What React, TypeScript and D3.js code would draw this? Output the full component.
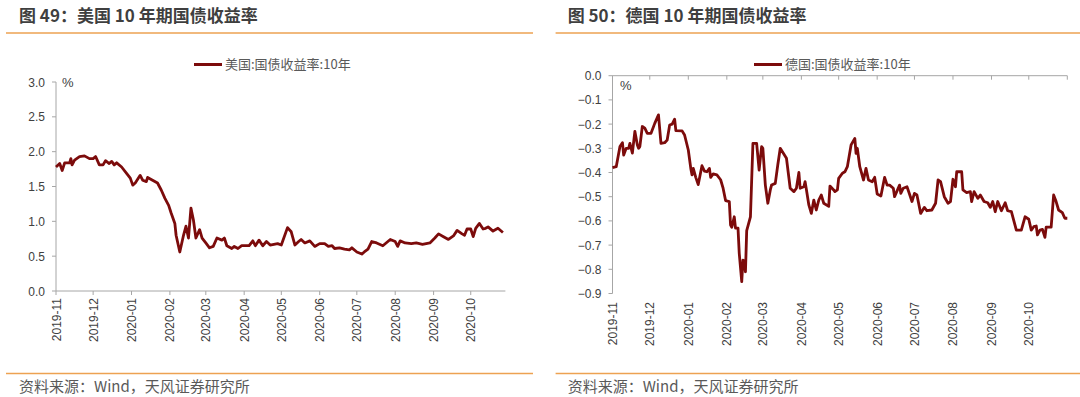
import React from 'react';
import * as d3 from 'd3';

// US 10Y yield
const usDates = [
  '2019-11-01', '2019-11-04', '2019-11-06', '2019-11-08', '2019-11-12', '2019-11-13', '2019-11-14', '2019-11-16',
  '2019-11-20', '2019-11-24', '2019-11-28', '2019-12-01', '2019-12-03', '2019-12-06', '2019-12-09', '2019-12-11',
  '2019-12-14', '2019-12-16', '2019-12-18', '2019-12-20', '2019-12-24', '2019-12-28', '2019-12-31', '2020-01-02',
  '2020-01-04', '2020-01-08', '2020-01-10', '2020-01-13', '2020-01-14', '2020-01-18', '2020-01-22', '2020-01-25',
  '2020-01-28', '2020-01-31', '2020-02-02', '2020-02-05', '2020-02-06', '2020-02-09', '2020-02-12', '2020-02-14',
  '2020-02-16', '2020-02-18', '2020-02-20', '2020-02-22', '2020-02-25', '2020-02-27', '2020-03-01', '2020-03-04',
  '2020-03-07', '2020-03-10', '2020-03-14', '2020-03-16', '2020-03-18', '2020-03-22', '2020-03-24', '2020-03-27',
  '2020-03-30', '2020-04-05', '2020-04-08', '2020-04-10', '2020-04-13', '2020-04-16', '2020-04-19', '2020-04-22',
  '2020-04-28', '2020-05-01', '2020-05-06', '2020-05-09', '2020-05-12', '2020-05-15', '2020-05-17', '2020-05-20',
  '2020-05-24', '2020-05-28', '2020-06-01', '2020-06-05', '2020-06-08', '2020-06-11', '2020-06-13', '2020-06-17',
  '2020-06-21', '2020-06-25', '2020-06-27', '2020-07-01', '2020-07-05', '2020-07-07', '2020-07-10', '2020-07-13',
  '2020-07-17', '2020-07-22', '2020-07-28', '2020-08-01', '2020-08-03', '2020-08-05', '2020-08-09', '2020-08-14',
  '2020-08-18', '2020-08-23', '2020-08-29', '2020-09-02', '2020-09-05', '2020-09-09', '2020-09-13', '2020-09-17',
  '2020-09-20', '2020-09-24', '2020-09-26', '2020-09-28', '2020-10-01', '2020-10-03', '2020-10-05', '2020-10-08',
  '2020-10-11', '2020-10-13', '2020-10-15', '2020-10-19', '2020-10-23', '2020-10-27',
];
const usYields = [
  1.78, 1.83, 1.73, 1.84, 1.84, 1.90, 1.81, 1.88,
  1.93, 1.94, 1.90, 1.90, 1.93, 1.81, 1.81, 1.87,
  1.83, 1.86, 1.81, 1.84, 1.78, 1.69, 1.62, 1.52,
  1.55, 1.66, 1.59, 1.57, 1.63, 1.59, 1.55, 1.45,
  1.33, 1.23, 1.12, 0.97, 0.80, 0.56, 0.80, 0.93,
  0.76, 1.19, 1.02, 0.76, 0.88, 0.76, 0.69, 0.62,
  0.64, 0.76, 0.73, 0.76, 0.65, 0.61, 0.64, 0.61,
  0.65, 0.65, 0.72, 0.65, 0.73, 0.65, 0.71, 0.66,
  0.68, 0.66, 0.91, 0.85, 0.66, 0.71, 0.74, 0.69,
  0.72, 0.64, 0.68, 0.68, 0.64, 0.65, 0.61, 0.62,
  0.60, 0.59, 0.62, 0.56, 0.53, 0.56, 0.60, 0.71,
  0.69, 0.65, 0.74, 0.71, 0.64, 0.72, 0.69, 0.68,
  0.69, 0.67, 0.69, 0.76, 0.82, 0.78, 0.74, 0.79,
  0.87, 0.82, 0.80, 0.89, 0.89, 0.78, 0.90, 0.97,
  0.89, 0.90, 0.92, 0.86, 0.90, 0.84,
];

// German 10Y yield
const deDates = [
  '2019-11-01', '2019-11-04', '2019-11-07', '2019-11-09', '2019-11-10', '2019-11-12', '2019-11-14', '2019-11-15',
  '2019-11-17', '2019-11-19', '2019-11-21', '2019-11-22', '2019-11-23', '2019-11-25', '2019-11-27', '2019-11-29',
  '2019-12-02', '2019-12-05', '2019-12-08', '2019-12-10', '2019-12-13', '2019-12-15', '2019-12-17', '2019-12-19',
  '2019-12-21', '2019-12-22', '2019-12-27', '2019-12-29', '2020-01-01', '2020-01-03', '2020-01-04', '2020-01-05',
  '2020-01-07', '2020-01-09', '2020-01-12', '2020-01-14', '2020-01-16', '2020-01-18', '2020-01-19', '2020-01-21',
  '2020-01-24', '2020-01-27', '2020-01-29', '2020-01-31', '2020-02-03', '2020-02-04', '2020-02-05', '2020-02-07',
  '2020-02-08', '2020-02-10', '2020-02-11', '2020-02-13', '2020-02-14', '2020-02-15', '2020-02-16', '2020-02-17',
  '2020-02-20', '2020-02-22', '2020-02-25', '2020-02-27', '2020-02-29', '2020-03-01', '2020-03-03', '2020-03-05',
  '2020-03-07', '2020-03-08', '2020-03-11', '2020-03-13', '2020-03-15', '2020-03-20', '2020-03-23', '2020-03-26',
  '2020-03-28', '2020-03-30', '2020-03-31', '2020-04-03', '2020-04-04', '2020-04-05', '2020-04-07', '2020-04-09',
  '2020-04-11', '2020-04-13', '2020-04-15', '2020-04-17', '2020-04-19', '2020-04-23', '2020-04-24', '2020-04-27',
  '2020-04-28', '2020-04-30', '2020-05-01', '2020-05-04', '2020-05-06', '2020-05-08', '2020-05-11', '2020-05-14',
  '2020-05-15', '2020-05-16', '2020-05-18', '2020-05-21', '2020-05-23', '2020-05-25', '2020-05-28', '2020-05-30',
  '2020-06-01', '2020-06-04', '2020-06-07', '2020-06-09', '2020-06-11', '2020-06-14', '2020-06-15', '2020-06-19',
  '2020-06-20', '2020-06-22', '2020-06-25', '2020-06-27', '2020-06-29', '2020-07-01', '2020-07-03', '2020-07-06',
  '2020-07-09', '2020-07-11', '2020-07-15', '2020-07-18', '2020-07-20', '2020-07-22', '2020-07-25', '2020-07-28',
  '2020-07-30', '2020-08-01', '2020-08-03', '2020-08-04', '2020-08-08', '2020-08-09', '2020-08-12', '2020-08-15',
  '2020-08-16', '2020-08-18', '2020-08-21', '2020-08-23', '2020-08-26', '2020-08-29', '2020-08-31', '2020-09-02',
  '2020-09-04', '2020-09-06', '2020-09-09', '2020-09-12', '2020-09-14', '2020-09-17', '2020-09-21', '2020-09-25',
  '2020-09-28', '2020-10-01', '2020-10-03', '2020-10-05', '2020-10-07', '2020-10-08', '2020-10-10', '2020-10-12',
  '2020-10-14', '2020-10-15', '2020-10-19', '2020-10-21', '2020-10-23', '2020-10-25', '2020-10-28', '2020-10-30',
  '2020-11-01',
];
const deYields = [
  -0.38, -0.376, -0.293, -0.277, -0.328, -0.30, -0.30, -0.28,
  -0.32, -0.23, -0.286, -0.30, -0.293, -0.21, -0.217, -0.238,
  -0.238, -0.197, -0.162, -0.28, -0.277, -0.266, -0.204, -0.20,
  -0.18, -0.227, -0.228, -0.245, -0.307, -0.383, -0.41, -0.383,
  -0.42, -0.45, -0.372, -0.394, -0.397, -0.383, -0.42, -0.406,
  -0.41, -0.43, -0.465, -0.516, -0.52, -0.617, -0.626, -0.583,
  -0.63, -0.63, -0.734, -0.851, -0.762, -0.77, -0.81, -0.64,
  -0.583, -0.28, -0.28, -0.39, -0.293, -0.30, -0.452, -0.527,
  -0.472, -0.452, -0.445, -0.369, -0.30, -0.341, -0.465, -0.479,
  -0.465, -0.40, -0.465, -0.459, -0.438, -0.469, -0.534, -0.569,
  -0.514, -0.555, -0.514, -0.493, -0.527, -0.54, -0.456, -0.472,
  -0.479, -0.472, -0.424, -0.403, -0.397, -0.376, -0.286, -0.259,
  -0.321, -0.30, -0.376, -0.431, -0.383, -0.431, -0.438, -0.42,
  -0.489, -0.497, -0.42, -0.452, -0.452, -0.465, -0.50, -0.452,
  -0.486, -0.465, -0.459, -0.489, -0.52, -0.486, -0.493, -0.569,
  -0.544, -0.558, -0.555, -0.527, -0.431, -0.438, -0.50, -0.527,
  -0.52, -0.428, -0.459, -0.397, -0.397, -0.472, -0.483, -0.479,
  -0.52, -0.479, -0.507, -0.493, -0.52, -0.525, -0.544, -0.52,
  -0.562, -0.52, -0.558, -0.525, -0.558, -0.562, -0.638, -0.638,
  -0.583, -0.593, -0.638, -0.624, -0.621, -0.658, -0.638, -0.635,
  -0.668, -0.626, -0.626, -0.493, -0.52, -0.555, -0.566, -0.589,
  -0.589,
];

const monthLabels = [
  '2019-11', '2019-12', '2020-01', '2020-02', '2020-03', '2020-04',
  '2020-05', '2020-06', '2020-07', '2020-08', '2020-09', '2020-10',
];
const usYTicks = [0, 0.5, 1, 1.5, 2, 2.5, 3];
const deYTicks = [0, -0.1, -0.2, -0.3, -0.4, -0.5, -0.6, -0.7, -0.8, -0.9];

const parseDay = d3.timeParse('%Y-%m-%d');
const parseMonth = d3.timeParse('%Y-%m');

const LINE_COLOR = '#7c0b0b';
const RULE_COLOR = '#eda252';
const AXIS_COLOR = '#a6a6a6';
const TEXT_COLOR = '#404040';
const CJK_FONT = '"Noto Sans CJK SC", "Noto Sans", sans-serif';
const NUM_FONT = '"Liberation Sans", Arial, sans-serif';

interface PanelProps {
  x0: number;
  x1: number;
  titleX: number;
  title: string;
  legend: string;
  legendX: number;
  dates: string[];
  values: number[];
  yTicks: number[];
  xDomain: [string, string];
  xRange: [number, number];
  yDomain: [number, number];
  yRange: [number, number];
  axisY: number;
  extraEndTick?: boolean;
  pct: [number, number];
  labelTop: number;
}

const Panel: React.FC<PanelProps> = (p) => {
  const x = d3.scaleTime()
    .domain([parseDay(p.xDomain[0])!, parseDay(p.xDomain[1])!])
    .range(p.xRange);
  const y = d3.scaleLinear().domain(p.yDomain).range(p.yRange);

  const points = p.dates.map((d, i) => ({ date: parseDay(d)!, v: p.values[i] }));
  const line = d3.line<{ date: Date; v: number }>()
    .x(d => x(d.date))
    .y(d => y(d.v));

  const tickDates = monthLabels.map(m => parseMonth(m)!);
  const markDates = p.extraEndTick ? [...tickDates, parseDay(p.xDomain[1])!] : tickDates;
  const yAxisTop = Math.min(...p.yRange);
  const yAxisBottom = Math.max(...p.yRange);

  return (
    <g>
      <text x={p.titleX} y={21.5} fontFamily={CJK_FONT} fontWeight={700} fontSize={17} fill="#3f3f3f">
        {p.title}
      </text>
      <line x1={p.x0} x2={p.x1} y1={33} y2={33} stroke={RULE_COLOR} strokeWidth={1.5} />

      {/* legend */}
      <line x1={p.legendX} x2={p.legendX + 28} y1={64.5} y2={64.5} stroke={LINE_COLOR} strokeWidth={3} />
      <text x={p.legendX + 31} y={69} fontFamily={CJK_FONT} fontSize={13} fill="#595959">
        {p.legend}
      </text>

      {/* y axis */}
      <line x1={p.xRange[0]} x2={p.xRange[0]} y1={yAxisTop} y2={yAxisBottom} stroke={AXIS_COLOR} strokeWidth={1} />
      {p.yTicks.map(t => (
        <g key={t}>
          <line x1={p.xRange[0] - 4} x2={p.xRange[0]} y1={y(t)} y2={y(t)} stroke={AXIS_COLOR} />
          <text x={p.xRange[0] - 11} y={y(t) + 4.5} textAnchor="end" fontFamily={NUM_FONT} fontSize={12} fill={TEXT_COLOR}>
            {d3.format('.1f')(t)}
          </text>
        </g>
      ))}
      <text x={p.pct[0]} y={p.pct[1]} fontFamily={NUM_FONT} fontSize={13} fill={TEXT_COLOR}>%</text>

      {/* x axis */}
      <line x1={p.xRange[0]} x2={p.xRange[1]} y1={p.axisY} y2={p.axisY} stroke={AXIS_COLOR} strokeWidth={1} />
      {markDates.map((d, i) => (
        <line key={i} x1={x(d)} x2={x(d)} y1={p.axisY} y2={p.axisY + 4} stroke={AXIS_COLOR} />
      ))}
      {tickDates.map((d, i) => (
        <text
          key={i}
          transform={`translate(${x(d) + 4.5},${p.labelTop}) rotate(-90)`}
          textAnchor="end"
          fontFamily={NUM_FONT}
          fontSize={12}
          fill={TEXT_COLOR}
        >
          {monthLabels[i]}
        </text>
      ))}

      <path d={line(points) ?? ''} fill="none" stroke={LINE_COLOR} strokeWidth={2.8} strokeLinejoin="round" />

      {/* source */}
      <line x1={p.x0} x2={p.x1} y1={373.5} y2={373.5} stroke={RULE_COLOR} strokeWidth={1.5} />
      <text x={p.titleX} y={392} fontFamily={CJK_FONT} fontSize={15} fill="#595959">
        资料来源：Wind，天风证券研究所
      </text>
    </g>
  );
};

export default function App() {
  return (
    <div style={{ position: 'absolute', left: 0, top: 0 }}>
      <svg width={1080} height={397} style={{ display: 'block', background: '#fff' }}>
        <Panel
          x0={6}
          x1={533}
          titleX={19}
          title="图 49：美国 10 年期国债收益率"
          legend="美国:国债收益率:10年"
          legendX={194}
          dates={usDates}
          values={usYields}
          yTicks={usYTicks}
          xDomain={['2019-11-01', '2020-10-29']}
          xRange={[56, 505.4]}
          yDomain={[0, 3]}
          yRange={[291, 82]}
          axisY={291}
          pct={[62, 86.5]}
          labelTop={298}
        />
        <Panel
          x0={555.6}
          x1={1080}
          titleX={567.7}
          title="图 50：德国 10 年期国债收益率"
          legend="德国:国债收益率:10年"
          legendX={754}
          dates={deDates}
          values={deYields}
          yTicks={deYTicks}
          xDomain={['2019-11-01', '2020-11-01']}
          xRange={[612.5, 1067.3]}
          yDomain={[0, -0.9]}
          yRange={[75.7, 293.5]}
          axisY={75.7}
          extraEndTick
          pct={[620, 89.5]}
          labelTop={302}
        />
      </svg>
    </div>
  );
}
